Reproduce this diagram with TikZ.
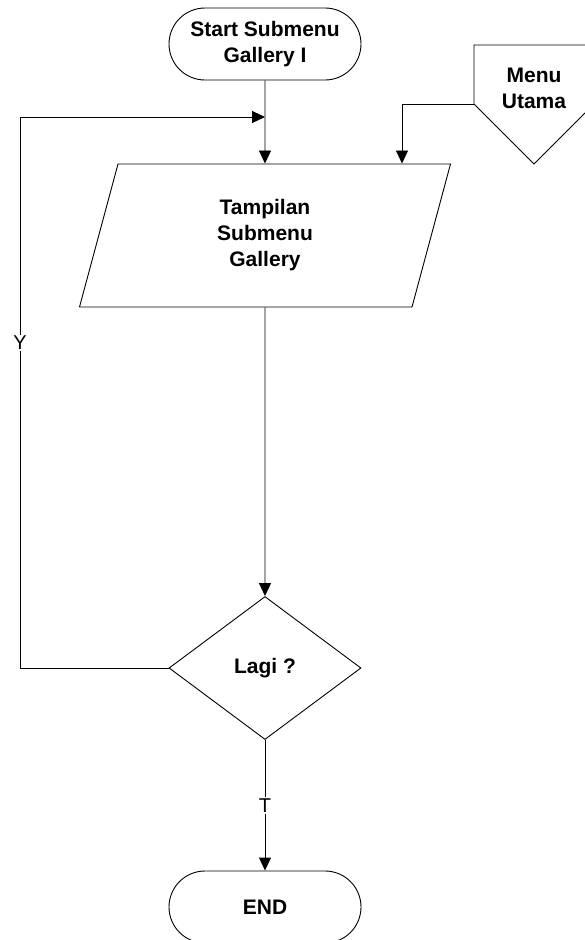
\documentclass[tikz,border=0pt]{standalone}
\usepackage{fontspec}
\setmainfont{Liberation Sans}
\usetikzlibrary{shapes.geometric}
\usetikzlibrary{arrows.meta, calc}

\begin{document}
\begin{tikzpicture}
  [
    x=1pt, y=-1pt,
    >={Triangle[length=13pt,width=12pt]},
    line width=0.9pt,
    every node/.style = {font=\fontsize{21}{26}\selectfont\bfseries, align=center},
    term/.style     = {draw, rectangle, rounded corners=36pt, minimum width=192pt, minimum height=72pt},
    io/.style       = {draw, trapezium, trapezium left angle=63.8, trapezium right angle=116.2,
                       trapezium stretches body, minimum width=371pt, minimum height=143pt},
    decision/.style = {draw, diamond, minimum width=192pt, minimum height=143pt, inner sep=0pt},
    lbl/.style      = {fill=white, font=\fontsize{20}{24}\selectfont, inner sep=1.5pt},
  ]

  \useasboundingbox (0,0) rectangle (584,940);

  % the main column
  \def\colx{265}

  \node (start) at (\colx,44) [term] {Start Submenu\\Gallery I};
  \node (io) at (\colx,235.5) [io] {Tampilan\\Submenu\\Gallery};
  \node (dec) at (\colx,668) [decision] {Lagi ?};
  \node (end) at (\colx,907) [term] {END};

  % off-page connector (Menu Utama)
  \node (menu) at (534,88) {Menu\\Utama};
  \draw (474,45) -- (594,45) -- (594,104) -- (534,164) -- (474,104) -- cycle;
  \coordinate (menuout) at (474,104);
  \coordinate (drop) at (402,104);

  % loop back
  \coordinate (loop) at (20,117);

  % connectors
  \draw[->] (start) -- (io);
  \draw[->] (menuout) -- (drop) -- (drop |- io.north);
  \draw[->] (io) -- (dec);
  \draw[->] (dec) -- node [lbl] {T} (end);

  \draw (dec.west) -- (dec.west -| loop) -- node [lbl, pos=0.59] {Y} (loop);
  \draw[->] (loop) -- (loop -| start.south);
\end{tikzpicture}
\end{document}
